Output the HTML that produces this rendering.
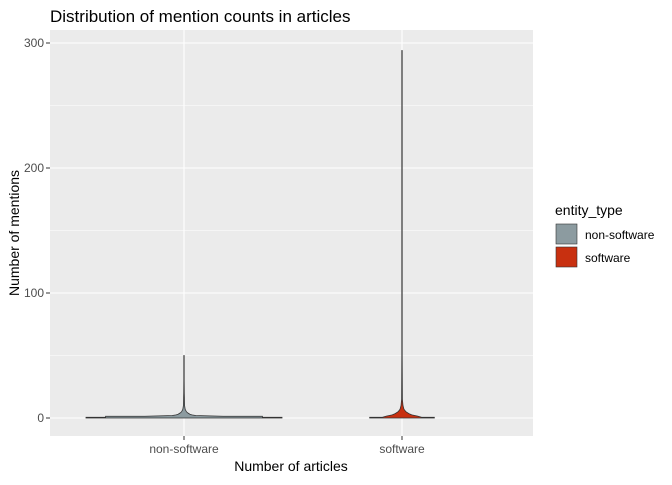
<!DOCTYPE html>
<html><head><meta charset="utf-8"><style>
body{margin:0;background:#fff;font-family:"Liberation Sans",Arial,sans-serif}
</style></head><body>
<svg width="672" height="480" xmlns="http://www.w3.org/2000/svg" id="chart">
<text x="50" y="22" font-size="17" fill="#000">Distribution of mention counts in articles</text>
<rect x="50" y="30" width="483" height="406" fill="#ebebeb"/>
<g id="grid"></g>
<g id="violins"></g>
<g id="axes"></g>
<text x="291" y="471" font-size="14" text-anchor="middle">Number of articles</text>
<text transform="translate(19,233) rotate(-90)" font-size="14" text-anchor="middle">Number of mentions</text>
<g>
<text x="555" y="215" font-size="14">entity_type</text>
<rect x="556" y="224" width="21" height="20" fill="#8c9ba0" stroke="#333" stroke-width="0.6"/>
<text x="585" y="239" font-size="12">non-software</text>
<rect x="556" y="247" width="21" height="20" fill="#c83010" stroke="#333" stroke-width="0.6"/>
<text x="585" y="262" font-size="12">software</text>
</g>
</svg>
<script>
const categories = ["non-software","software"];
const fills = ["#8c9ba0","#c83010"];
const yTicks = [0,100,200,300];
const yMinor = [50,150,250];
// violin profiles: mention values and relative density widths (0..1)
const nsValues = [0,0.6,0.6,1.4,1.4,2,2.5,3,4,5,7,10,20,30,50];
const nsWidths = [1,1,0.8,0.8,0.4,0.12,0.08,0.06,0.04,0.025,0.012,0.006,0.003,0.002,0.002];
const swValues = [0,0.6,0.6,1.5,2.5,3.5,5,7,10,15,50,150,294];
const swWidths = [0.33,0.33,0.2,0.16,0.1,0.07,0.04,0.02,0.01,0.004,0.002,0.002,0.002];
const NS="http://www.w3.org/2000/svg";
const svg=document.getElementById('chart');
const yScale=v=>418-v*1.25;
const xScale=i=>184+i*218;
const halfMax=98;
function mk(tag,attrs,parent){const e=document.createElementNS(NS,tag);for(const k in attrs)e.setAttribute(k,attrs[k]);document.getElementById(parent).appendChild(e);return e;}
yMinor.forEach(v=>{const l=mk('line',{x1:50,x2:533,y1:yScale(v),y2:yScale(v),stroke:'#fff','stroke-width':0.5},'grid');

});
yTicks.forEach(v=>{const l=mk('line',{x1:50,x2:533,y1:yScale(v),y2:yScale(v),stroke:'#fff','stroke-width':1.1},'grid');


const t=mk('text',{x:44,y:yScale(v)+4,'font-size':12,fill:'#4d4d4d','text-anchor':'end'},'axes');t.textContent=v;


const tk=mk('line',{x1:46,x2:50,y1:yScale(v),y2:yScale(v),stroke:'#333'},'axes');

});
categories.forEach((c,i)=>{const x=xScale(i);
const l=mk('line',{x1:x,x2:x,y1:30,y2:436,stroke:'#fff','stroke-width':1.1},'grid');


const tk=mk('line',{x1:x,x2:x,y1:436,y2:440,stroke:'#333'},'axes');


const t=mk('text',{x:x,y:453,'font-size':12,fill:'#4d4d4d','text-anchor':'middle'},'axes');t.textContent=c;


const vals=i==0?nsValues:swValues, ws=i==0?nsWidths:swWidths;
let right=[],left=[];
vals.forEach((v,j)=>{const w=ws[j]*halfMax;right.push((x+w)+','+yScale(v));left.unshift((x-w)+','+yScale(v));});
const p=mk('polygon',{points:right.concat(left).join(' '),fill:fills[i],stroke:'#333','stroke-width':0.8},'violins');

});
</script>
</body></html>
